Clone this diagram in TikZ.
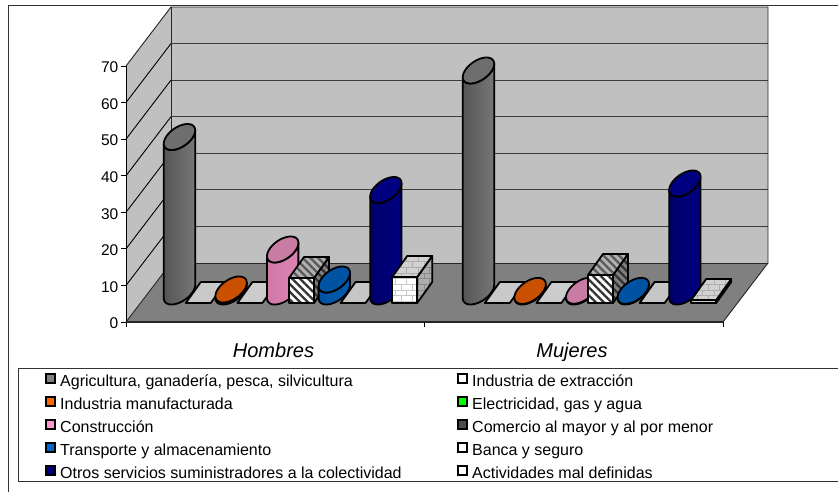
\documentclass[tikz,border=0pt]{standalone}
\usepackage{fontspec}
\setmainfont{Liberation Sans}
\usetikzlibrary{patterns,patterns.meta}
\definecolor{wallc}{HTML}{C0C0C0}
\definecolor{floorc}{HTML}{808080}
\definecolor{gridc}{HTML}{3C3C3C}
\definecolor{agrid}{HTML}{555555}
\definecolor{agrim}{HTML}{959595}
\definecolor{agrit}{HTML}{6E6E6E}
\definecolor{orat}{HTML}{C85000}
\definecolor{orab}{HTML}{9A3C00}
\definecolor{pinkd}{HTML}{D079A6}
\definecolor{pinkm}{HTML}{FF9CCF}
\definecolor{pinkt}{HTML}{C97CA3}
\definecolor{bluet}{HTML}{0052A3}
\definecolor{blueb}{HTML}{0070D6}
\definecolor{navyt}{HTML}{000080}
\definecolor{navyd}{HTML}{00006A}
\definecolor{navym}{HTML}{1414A8}
\definecolor{tilea}{HTML}{C9C9C9}
\definecolor{tilew}{HTML}{CCCCCC}
\definecolor{tiled}{HTML}{C6C6C6}
\definecolor{legorange}{HTML}{FF6600}
\definecolor{leggreen}{HTML}{00FF00}
\definecolor{legpink}{HTML}{FF99CC}
\definecolor{legblue}{HTML}{0066CC}
\tikzset{
  barline/.style={draw=black, line width=1.8pt, line join=round},
  agribody/.style={barline, left color=agrid, middle color=agrim, right color=agrid!80!white},
  agritop/.style={barline, fill=agrit},
  orabody/.style={barline, fill=orab},
  oratop/.style={barline, fill=orat},
  pinkbody/.style={barline, left color=pinkd, middle color=pinkm, right color=pinkd!70!pinkm},
  pinktop/.style={barline, fill=pinkt},
  bluebody/.style={barline, left color=bluet, middle color=blueb, right color=blueb!80!black},
  bluetop/.style={barline, fill=bluet},
  navybody/.style={barline, left color=navyd, middle color=navym, right color=navyt},
  navytop/.style={barline, fill=navyt},
  stripefront/.style={barline, preaction={fill=white}, pattern={Lines[angle=-45,distance=5.5pt,line width=2.3pt]}, pattern color=black!80},
  stripetop/.style={barline, preaction={fill=black!30}, pattern={Lines[angle=-45,distance=5.5pt,line width=2.3pt]}, pattern color=black!65},
  stripeside/.style={barline, preaction={fill=black!50}, pattern={Lines[angle=-45,distance=5.5pt,line width=2.3pt]}, pattern color=black!80},
  brickfront/.style={barline, preaction={fill=white}, pattern=bricks, pattern color=black!22},
  bricktop/.style={barline, preaction={fill=black!18}, pattern=bricks, pattern color=black!32},
  brickside/.style={barline, preaction={fill=black!32}, pattern=bricks, pattern color=black!45},
  legmark/.style={draw=black, line width=2pt},
  legtext/.style={anchor=base west, inner sep=0pt, font=\fontsize{16}{18}\selectfont},
  axlabel/.style={anchor=east, inner sep=0pt, font=\fontsize{15.5}{18}\selectfont},
  catlabel/.style={anchor=base, inner sep=0pt, font=\itshape\fontsize{20}{24}\selectfont}
}
% cylinder: #1 centre x, #2 height, #3 body style, #4 top style
\newcommand\mycyl[4]{%
  \path[#3] plot[domain=210.65:390.65,samples=40] ({#1+13.5*cos(\x)+8*sin(\x)},{291.5-13*sin(\x)})
    -- plot[domain=390.65:210.65,samples=40] ({#1+13.5*cos(\x)+8*sin(\x)},{291.5-#2-13*sin(\x)}) -- cycle;
  \path[#4] plot[domain=0:360,samples=73] ({#1+13.5*cos(\x)+8*sin(\x)},{291.5-#2-13*sin(\x)}) -- cycle;
}
% box: #1 front-left x, #2 height, #3 front, #4 top, #5 side
\newcommand\mybox[5]{%
  \path[#3] (#1,303) rectangle ({#1+25},{303-#2});
  \path[#5] ({#1+25},303) -- ({#1+40},282) -- ({#1+40},{282-#2}) -- ({#1+25},{303-#2}) -- cycle;
  \path[#4] (#1,{303-#2}) -- ({#1+25},{303-#2}) -- ({#1+40},{282-#2}) -- ({#1+15},{282-#2}) -- cycle;
}
% flat tile: #1 front-left x, #2 fill colour
\newcommand\mytile[2]{%
  \path[barline, fill=#2] (#1,303) -- ({#1+25},303) -- ({#1+40},282) -- ({#1+15},282) -- cycle;
}
\begin{document}
\begin{tikzpicture}[x=1pt,y=-1pt]
\useasboundingbox (0,0) rectangle (838,492);
\fill[white] (0,0) rectangle (838,492);
% chart frame
\draw[black!80, line width=1pt] (8,492) -- (8,6) -- (838,6);
% walls
\fill[wallc] (171,7) rectangle (768,263);
\fill[wallc] (126,66) -- (171,7) -- (171,263) -- (126,322) -- cycle;
\fill[floorc] (126,322) -- (723,322) -- (768,263) -- (171,263) -- cycle;
\foreach \k in {1,...,6}{
  \draw[gridc, line width=1pt] (171,{263-36.57*\k}) -- (768,{263-36.57*\k});
  \draw[black, line width=0.9pt] (126,{322-36.57*\k}) -- (171,{263-36.57*\k});
}
\draw[black!85, line width=0.9pt] (126,66) -- (171,7) -- (768,7) -- (768,263);
\draw[black!85, line width=0.9pt] (171,7) -- (171,263) -- (768,263);
\draw[black!85, line width=0.9pt] (126,322) -- (171,263);
\draw[black!85, line width=0.9pt] (723,322) -- (768,263);
% axes
\draw[black, line width=1pt] (126,66) -- (126,327);
\draw[black!85, line width=1.2pt] (126,322) -- (723,322);
\foreach \k in {0,...,7}{
  \draw[black, line width=1pt] (121,{322-36.57*\k}) -- (126,{322-36.57*\k});
}
\foreach \k in {0,...,7}{
  \pgfmathtruncatemacro\v{10*\k}
  \node[axlabel] (ax\k) at (118.5,{323.5-36.57*\k}) {\v};
}
\draw[black, line width=1pt] (424,322) -- (424,327);
\draw[black, line width=1pt] (723,322) -- (723,327);
% Hombres bars
\mycyl{179.5}{154.5}{agribody}{agritop}
\mytile{185.8}{tilea}
\mycyl{231.1}{2}{orabody}{oratop}
\mytile{237.4}{tilew}
\mycyl{282.7}{42}{pinkbody}{pinktop}
\mybox{289}{25}{stripefront}{stripetop}{stripeside}
\mycyl{334.3}{12}{bluebody}{bluetop}
\mytile{340.6}{tiled}
\mycyl{385.9}{101.5}{navybody}{navytop}
\mybox{392.2}{26}{brickfront}{bricktop}{brickside}
% Mujeres bars
\mycyl{478.5}{221}{agribody}{agritop}
\mytile{484.8}{tilea}
\mycyl{530.1}{0.6}{orabody}{oratop}
\mytile{536.4}{tilew}
\mycyl{581.7}{0.8}{pinkbody}{pinktop}
\mybox{588}{28}{stripefront}{stripetop}{stripeside}
\mycyl{633.3}{0.6}{bluebody}{bluetop}
\mytile{639.6}{tiled}
\mycyl{684.9}{108}{navybody}{navytop}
\mybox{691.2}{3}{brickfront}{bricktop}{brickside}
% category labels
\node[catlabel] (hom) at (273.5,357) {Hombres};
\node[catlabel] (muj) at (572,357) {Mujeres};
% legend
\draw[black!80, line width=1pt] (838,368) -- (18,368) -- (18,481) -- (838,481);
\path[legmark, fill=floorc] (45.5,373.5) rectangle (54.5,382.5);
\path[legmark, fill=legorange] (45.5,397) rectangle (54.5,406);
\path[legmark, fill=legpink] (45.5,419.5) rectangle (54.5,428.5);
\path[legmark, fill=legblue] (45.5,442.5) rectangle (54.5,451.5);
\path[legmark, fill=navyt] (45.5,465.5) rectangle (54.5,474.5);
\node[legtext] (l1) at (60,386) {Agricultura, ganadería, pesca, silvicultura};
\node[legtext] (l2) at (60,409.5) {Industria manufacturada};
\node[legtext] (l3) at (60,432.5) {Construcción};
\node[legtext] (l4) at (60,455.5) {Transporte y almacenamiento};
\node[legtext] (l5) at (60,478.5) {Otros servicios suministradores a la colectividad};
\path[legmark, fill=white] (457.5,373.5) rectangle (466.5,382.5);
\path[legmark, fill=leggreen] (457.5,397) rectangle (466.5,406);
\path[legmark, fill=black!70] (457.5,419.5) rectangle (466.5,428.5);
\path[legmark, fill=white] (457.5,442.5) rectangle (466.5,451.5);
\path[legmark, fill=white] (457.5,465.5) rectangle (466.5,474.5);
\node[legtext] (r1) at (472,386) {Industria de extracción};
\node[legtext] (r2) at (472,409.5) {Electricidad, gas y agua};
\node[legtext] (r3) at (472,432.5) {Comercio al mayor y al por menor};
\node[legtext] (r4) at (472,455.5) {Banca y seguro};
\node[legtext] (r5) at (472,478.5) {Actividades mal definidas};
\end{tikzpicture}
\end{document}
